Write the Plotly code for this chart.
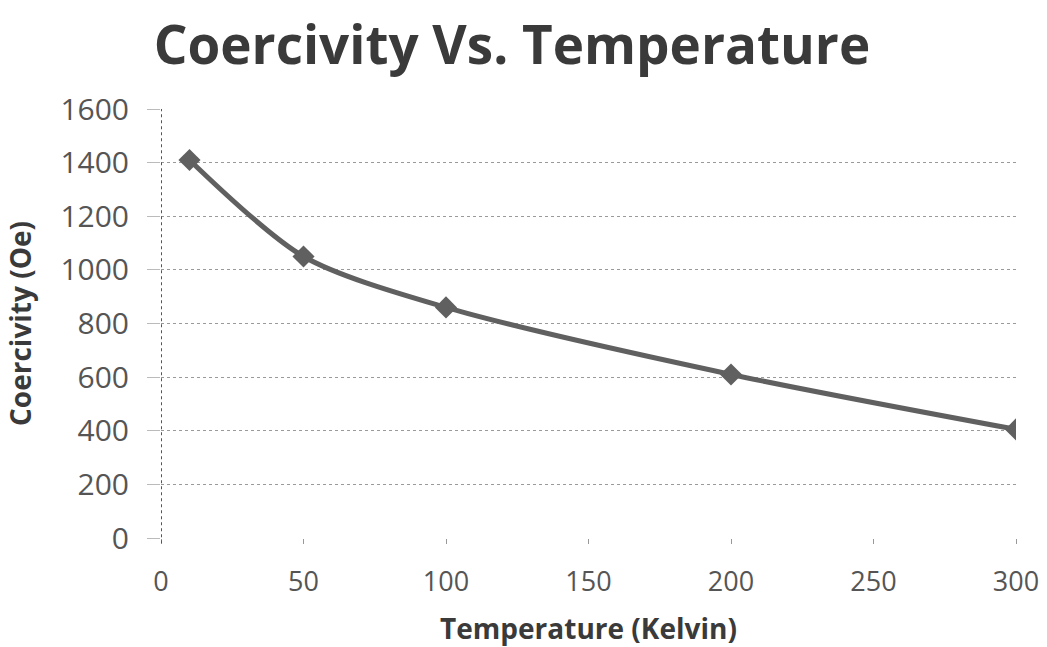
import plotly.graph_objects as go

temperature_k = [10, 50, 100, 200, 300]
coercivity_oe = [1410, 1050, 860, 610, 405]
x_ticks = [0, 50, 100, 150, 200, 250, 300]
y_ticks = [0, 200, 400, 600, 800, 1000, 1200, 1400, 1600]

title_text = "Coercivity Vs. Temperature"
x_title = "Temperature (Kelvin)"
y_title = "Coercivity (Oe)"

fig = go.Figure()
fig.add_trace(go.Scatter(
    x=temperature_k, y=coercivity_oe, mode="lines+markers",
    line=dict(color="#606060", width=5, shape="spline", smoothing=0.8),
    marker=dict(symbol="diamond", size=17, color="#606060"),
    showlegend=False, hoverinfo="skip",
))

# dotted vertical axis line at x = 0 (Excel-style)
fig.add_shape(type="line", xref="x", yref="paper", x0=0, x1=0, y0=-0.012, y1=1,
              line=dict(color="#555555", width=2, dash="dot"))

fig.update_layout(
    width=1047, height=647,
    paper_bgcolor="white", plot_bgcolor="white",
    margin=dict(l=161, r=31, t=109, b=109, autoexpand=False),
    title=dict(text=title_text, x=0.489, xanchor="center", y=0.93, yanchor="middle",
               font=dict(family="Open Sans", size=53, color="#3a3a3a", weight="bold")),
    font=dict(family="Open Sans", color="#444444"),
)
fig.update_xaxes(
    range=[0, 300], tickvals=x_ticks, showgrid=False, zeroline=False,
    showline=False, ticks="outside", ticklen=5, tickcolor="#999999",
    tickfont=dict(size=27, color="#555555"), ticklabelstandoff=15,
    automargin=False,
    title=dict(text=x_title, font=dict(size=28, color="#3a3a3a", weight="bold"), standoff=30),
)
fig.update_yaxes(
    range=[0, 1600], tickvals=y_ticks, showgrid=True, gridcolor="#9a9a9a",
    griddash="dot", gridwidth=1, zeroline=False, showline=False,
    ticks="outside", ticklen=13, tickcolor="#bbbbbb",
    tickfont=dict(size=30, color="#555555"), ticklabelstandoff=12,
    automargin=False,
    title=dict(text=y_title, font=dict(size=28, color="#3a3a3a", weight="bold"), standoff=20),
)

fig.write_html("out.html", config={"displayModeBar": False},
               post_script="document.body.style.margin='0';document.body.style.overflow='hidden';")
